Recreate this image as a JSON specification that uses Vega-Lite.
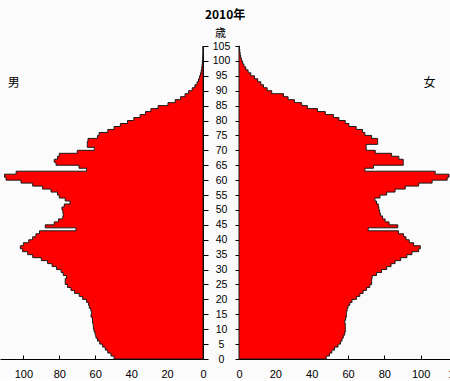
{
  "$schema": "https://vega.github.io/schema/vega-lite/v6.json",
  "background": "#fbfbfb",
  "padding": {"top": 8, "left": 0, "right": 0, "bottom": 0},
  "title": {"text": "2010年", "font": "Noto Sans CJK JP", "fontSize": 12, "fontWeight": "bold", "anchor": "middle", "dx": -8, "color": "#000", "offset": 6},
  "datasets": {
    "pop": [
      {"age":0,"male":48.5,"female":45.6},{"age":1,"male":49.5,"female":48},{"age":2,"male":51.2,"female":49.8},{"age":3,"male":53,"female":51.1},{"age":4,"male":54.4,"female":52.6},
      {"age":5,"male":55.9,"female":54.5},{"age":6,"male":57.5,"female":55.9},{"age":7,"male":58.7,"female":56.7},{"age":8,"male":59.6,"female":57.4},{"age":9,"male":60,"female":58.2},
      {"age":10,"male":60.6,"female":58.5},{"age":11,"male":61,"female":58.5},{"age":12,"male":61.1,"female":58.5},{"age":13,"male":61.5,"female":58.2},{"age":14,"male":61.5,"female":58.7},
      {"age":15,"male":62.3,"female":59.1},{"age":16,"male":62,"female":59.1},{"age":17,"male":62.4,"female":59.5},{"age":18,"male":63.3,"female":60},{"age":19,"male":63.7,"female":61},
      {"age":20,"male":64.8,"female":62.2},{"age":21,"male":67,"female":64.6},{"age":22,"male":68.9,"female":66.5},{"age":23,"male":71.5,"female":68.3},{"age":24,"male":73.5,"female":70.2},
      {"age":25,"male":75.4,"female":72},{"age":26,"male":76.7,"female":73},{"age":27,"male":76.7,"female":73},{"age":28,"male":76,"female":73.3},{"age":29,"male":77.8,"female":75.7},
      {"age":30,"male":79,"female":78.5},{"age":31,"male":81.5,"female":81.3},{"age":32,"male":84,"female":83.7},{"age":33,"male":86.5,"female":85.9},{"age":34,"male":90,"female":89},
      {"age":35,"male":94.8,"female":92.4},{"age":36,"male":97.6,"female":95.2},{"age":37,"male":100.4,"female":98.9},{"age":38,"male":101.7,"female":99.8},{"age":39,"male":100,"female":96.1},
      {"age":40,"male":97,"female":93.7},{"age":41,"male":94.8,"female":91.9},{"age":42,"male":93,"female":90.6},{"age":43,"male":91,"female":87.8},{"age":44,"male":70.7,"female":71.1},
      {"age":45,"male":87.8,"female":87.4},{"age":46,"male":82.8,"female":82.6},{"age":47,"male":80.4,"female":80.4},{"age":48,"male":78,"female":79},{"age":49,"male":77.8,"female":77.8},
      {"age":50,"male":78,"female":77.4},{"age":51,"male":78.5,"female":77},{"age":52,"male":77.2,"female":76.7},{"age":53,"male":74,"female":75.7},{"age":54,"male":76.7,"female":74.8},
      {"age":55,"male":80,"female":77.6},{"age":56,"male":81,"female":81.3},{"age":57,"male":84.6,"female":85.9},{"age":58,"male":89.3,"female":91.5},{"age":59,"male":94.8,"female":98.9},
      {"age":60,"male":101.3,"female":106.3},{"age":61,"male":109.6,"female":114.6},{"age":62,"male":110.5,"female":115.6},{"age":63,"male":104,"female":108},{"age":64,"male":64.8,"female":69.3},
      {"age":65,"male":69,"female":74},{"age":66,"male":81.8,"female":90.4},{"age":67,"male":82.8,"female":90.4},{"age":68,"male":81,"female":88},{"age":69,"male":80,"female":84},
      {"age":70,"male":70,"female":75},{"age":71,"male":60.5,"female":70},{"age":72,"male":64.4,"female":70},{"age":73,"male":64.4,"female":76.3},{"age":74,"male":64,"female":76.3},
      {"age":75,"male":58.7,"female":73},{"age":76,"male":57.8,"female":69.3},{"age":77,"male":53,"female":68},{"age":78,"male":49.5,"female":64.5},{"age":79,"male":46,"female":60.5},
      {"age":80,"male":42,"female":58.5},{"age":81,"male":38.5,"female":55},{"age":82,"male":35,"female":52},{"age":83,"male":32,"female":47.5},{"age":84,"male":29,"female":43.2},
      {"age":85,"male":25,"female":37.6},{"age":86,"male":19.5,"female":34.5},{"age":87,"male":15.5,"female":30.5},{"age":88,"male":12.5,"female":27},{"age":89,"male":10,"female":24.5},
      {"age":90,"male":8,"female":18},{"age":91,"male":6,"female":15.5},{"age":92,"male":4.5,"female":13.5},{"age":93,"male":3.3,"female":12},{"age":94,"male":2.5,"female":10.3},
      {"age":95,"male":1.9,"female":8.5},{"age":96,"male":1.4,"female":6.5},{"age":97,"male":1.0,"female":5},{"age":98,"male":0.7,"female":3.7},{"age":99,"male":0.5,"female":2.7},
      {"age":100,"male":0.35,"female":2.0},{"age":101,"male":0.2,"female":1.3},{"age":102,"male":0.1,"female":0.9},{"age":103,"male":0,"female":0.6},{"age":104,"male":0,"female":0.4},
      {"age":105,"male":0,"female":0.25}
    ]
  },
  "hconcat": [
    {
      "width": 203,
      "height": 313,
      "encoding": {
        "y": {"field": "age", "type": "quantitative", "scale": {"domain": [0, 105], "nice": false},
              "axis": {"orient": "right", "values": [0,5,10,15,20,25,30,35,40,45,50,55,60,65,70,75,80,85,90,95,100,105], "tickSize": 5, "labelPadding": 13, "labelAlign": "center", "labelBaseline": "middle", "labelFlush": false, "labelOverlap": false, "labelFontSize": 10.5,
                       "title": "歳", "titleAngle": 0, "titleX": 17, "titleY": -12.5, "titleAlign": "center", "titleBaseline": "middle", "titleFont": "Noto Sans CJK JP", "titleFontSize": 11, "titleFontWeight": "normal"}},
        "x": {"field": "male", "type": "quantitative", "scale": {"domain": [0, 113], "reverse": true, "nice": false},
              "axis": {"values": [0,20,40,60,80,100], "tickSize": -4, "labelPadding": 13, "labelFlush": false, "labelOverlap": false, "title": null}}
      },
      "layer": [
        {
          "data": {"name": "pop"},
          "mark": {"type": "area", "orient": "horizontal", "interpolate": "step-before", "fill": "#ff0000", "stroke": "#1a1a1a", "strokeWidth": 1}
        },
        {
          "data": {"values": [{"t": "男", "v": 105.4, "a": 92.5}]},
          "mark": {"type": "text", "font": "Noto Sans CJK JP", "fontSize": 12, "color": "#000"},
          "encoding": {
            "x": {"field": "v", "type": "quantitative"},
            "y": {"field": "a", "type": "quantitative"},
            "text": {"field": "t"}
          }
        }
      ]
    },
    {
      "width": 218,
      "height": 313,
      "encoding": {
        "y": {"field": "age", "type": "quantitative", "scale": {"domain": [0, 105], "nice": false},
              "axis": {"orient": "left", "values": [0,5,10,15,20,25,30,35,40,45,50,55,60,65,70,75,80,85,90,95,100,105], "tickSize": 4, "labels": false, "title": null}},
        "x": {"field": "female", "type": "quantitative", "scale": {"domain": [0, 120], "nice": false},
              "axis": {"values": [0,20,40,60,80,100,120], "tickSize": -4, "labelPadding": 13, "labelFlush": false, "labelOverlap": false, "title": null}}
      },
      "layer": [
        {
          "data": {"name": "pop"},
          "mark": {"type": "area", "orient": "horizontal", "interpolate": "step-before", "fill": "#ff0000", "stroke": "#1a1a1a", "strokeWidth": 1}
        },
        {
          "data": {"values": [{"t": "女", "v": 104.8, "a": 92.5}]},
          "mark": {"type": "text", "font": "Noto Sans CJK JP", "fontSize": 12, "color": "#000"},
          "encoding": {
            "x": {"field": "v", "type": "quantitative"},
            "y": {"field": "a", "type": "quantitative"},
            "text": {"field": "t"}
          }
        }
      ]
    }
  ],
  "spacing": 36,
  "bounds": "flush",
  "config": {
    "view": {"stroke": null},
    "axis": {"grid": false, "domainColor": "#000", "tickColor": "#000", "labelColor": "#000", "labelFont": "Liberation Sans", "labelFontSize": 11, "titleColor": "#000", "labelOverlap": false}
  }
}
